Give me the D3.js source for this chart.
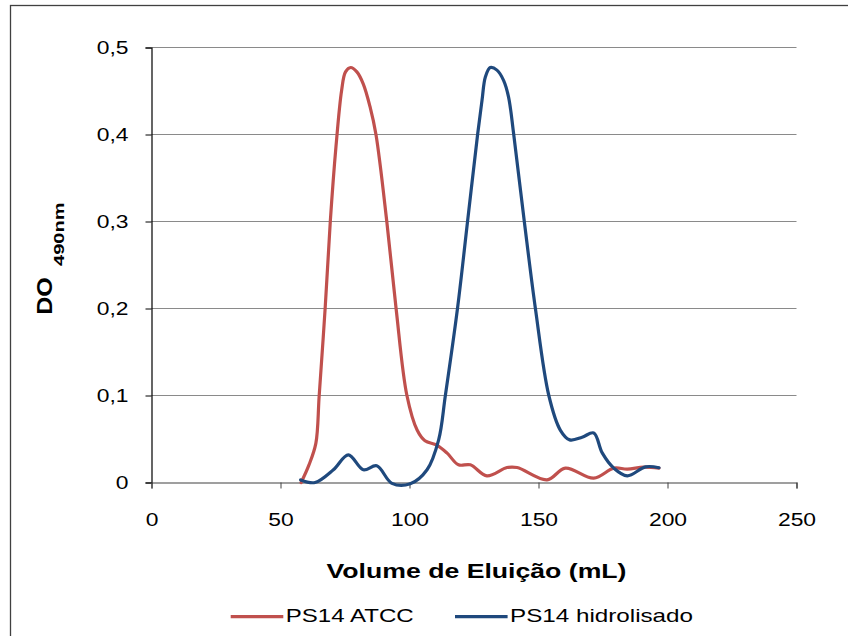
<!DOCTYPE html>
<html lang="pt">
<head>
<meta charset="UTF-8">
<title>DO 490nm</title>
<script src="https://cdn.jsdelivr.net/npm/d3@7"></script>
<style>
  body { margin: 0; background: #fff; }
  text { font-family: "Liberation Sans", Arial, sans-serif; fill: #000; }
</style>
</head>
<body>
<script>
// eluted volume (mL) and optical density
const atccVol = [58, 61, 63.7, 65, 67.3, 69.3, 71.5, 73.7, 75.2, 77.2, 79.6, 82.1, 84.7, 87, 91.2, 94.8, 99, 103, 106, 110.6, 114.5, 119, 123.6, 130, 137.8, 141.7, 153.3, 160.4, 171.4, 179.2, 184.4, 190.8, 196.7];
const atccDO  = [0, 0.02, 0.045, 0.1, 0.2, 0.3, 0.386, 0.451, 0.472, 0.477, 0.472, 0.458, 0.432, 0.4, 0.3, 0.2, 0.1, 0.06, 0.048, 0.043, 0.034, 0.0203, 0.0203, 0.0077, 0.0172, 0.0172, 0.003, 0.0165, 0.005, 0.0165, 0.0153, 0.0177, 0.0165];

const hidroVol = [57.8, 63.4, 70.5, 76.3, 82.1, 87.3, 93.2, 100.3, 106.8, 111.3, 113.9, 118.6, 122.5, 126.4, 128.1, 129.4, 131.3, 133.9, 136.5, 138.4, 140.4, 144.5, 148.8, 154, 158.5, 162.1, 166.9, 171.4, 174.7, 179.2, 184.4, 191.5, 196.7];
const hidroDO  = [0.003, 0, 0.0146, 0.0318, 0.0146, 0.0192, -0.001, -0.0015, 0.0146, 0.049, 0.1, 0.2, 0.3, 0.4, 0.439, 0.466, 0.477, 0.474, 0.462, 0.443, 0.4, 0.3, 0.2, 0.1, 0.06, 0.049, 0.052, 0.057, 0.034, 0.0165, 0.0077, 0.018, 0.017];

const xTicks = [0, 50, 100, 150, 200, 250];
const yTicks = [0, 0.1, 0.2, 0.3, 0.4, 0.5];
const yTickLabels = ["0", "0,1", "0,2", "0,3", "0,4", "0,5"];

const seriesNames = ["PS14 ATCC", "PS14 hidrolisado"];
const seriesColors = ["#C0504D", "#1F497D"];

const width = 848, height = 636;
const plotLeft = 151.5, plotRight = 796.5, plotTop = 47.5, plotBottom = 482.5;

// the original fonts are drawn wider than normal
function stretch(sel, k) {
  sel.each(function () {
    const len = this.getComputedTextLength();
    d3.select(this)
      .attr("textLength", len * k)
      .attr("lengthAdjust", "spacingAndGlyphs");
  });
}

const svg = d3.select("body").append("svg")
  .attr("width", width)
  .attr("height", height);

// outer chart frame
svg.append("rect")
  .attr("x", 10.5).attr("y", 5.5)
  .attr("width", 900).attr("height", 700)
  .attr("fill", "none")
  .attr("stroke", "#404040")
  .attr("stroke-width", 1.3);

const x = d3.scaleLinear().domain([0, 250]).range([plotLeft, plotRight]);
const y = d3.scaleLinear().domain([0, 0.5]).range([plotBottom, plotTop]);

// gridlines
svg.append("g")
  .selectAll("line")
  .data(yTicks.slice(1))
  .join("line")
  .attr("x1", plotLeft).attr("x2", plotRight)
  .attr("y1", d => y(d)).attr("y2", d => y(d))
  .attr("stroke", "#8a8a8a")
  .attr("stroke-width", 1.2);

// y axis
const yAxis = svg.append("g")
  .attr("transform", `translate(${plotLeft},0)`)
  .call(d3.axisLeft(y).tickValues(yTicks).tickSize(6).tickPadding(17)
    .tickFormat((d, i) => yTickLabels[i]));
yAxis.select(".domain").attr("stroke", "#000").attr("stroke-width", 1.2);
yAxis.selectAll(".tick line").attr("stroke", "#000");
yAxis.selectAll("text")
  .attr("font-family", null).attr("font-size", null)
  .style("font-size", "18px");

// x axis
const xAxis = svg.append("g")
  .attr("transform", `translate(0,${plotBottom})`)
  .call(d3.axisBottom(x).tickValues(xTicks).tickSize(6).tickPadding(25));
xAxis.select(".domain").attr("stroke", "#404040").attr("stroke-width", 1.2);
xAxis.selectAll(".tick line").attr("stroke", "#404040");
xAxis.selectAll("text")
  .attr("font-family", null)
  .style("font-size", "18px");

svg.selectAll(".tick text").call(stretch, 1.27);

// series
const line = d3.line()
  .x(d => x(d[0]))
  .y(d => y(d[1]))
  .curve(d3.curveCatmullRom.alpha(0.5));

const series = [
  d3.zip(atccVol, atccDO),
  d3.zip(hidroVol, hidroDO)
];

svg.append("g")
  .selectAll("path")
  .data(series)
  .join("path")
  .attr("d", line)
  .attr("fill", "none")
  .attr("stroke", (d, i) => seriesColors[i])
  .attr("stroke-width", 3.2)
  .attr("stroke-linejoin", "round")
  .attr("stroke-linecap", "round");

// axis titles
svg.append("text")
  .attr("x", 476.5).attr("y", 577.7)
  .attr("text-anchor", "middle")
  .attr("textLength", 300)
  .attr("lengthAdjust", "spacingAndGlyphs")
  .style("font-size", "19.5px")
  .style("font-weight", "bold")
  .text("Volume de Eluição (mL)");

svg.append("text")
  .attr("transform", "translate(51.7,314.8) rotate(-90)")
  .attr("textLength", 37.5)
  .attr("lengthAdjust", "spacingAndGlyphs")
  .style("font-weight", "bold")
  .style("font-size", "22px")
  .text("DO");
svg.append("text")
  .attr("transform", "translate(64.3,266) rotate(-90)")
  .attr("textLength", 63.5)
  .attr("lengthAdjust", "spacingAndGlyphs")
  .style("font-weight", "bold")
  .style("font-size", "15px")
  .text("490nm");

// legend
const legendX = [230.7, 455];
const legendLen = [128, 183];
const legend = svg.append("g")
  .selectAll("g")
  .data(seriesNames)
  .join("g")
  .attr("transform", (d, i) => `translate(${legendX[i]},616.7)`);
legend.append("line")
  .attr("x1", 0).attr("x2", 52.6)
  .attr("stroke", (d, i) => seriesColors[i])
  .attr("stroke-width", 3.2);
legend.append("text")
  .attr("x", 55).attr("y", 5)
  .attr("textLength", (d, i) => legendLen[i])
  .attr("lengthAdjust", "spacingAndGlyphs")
  .style("font-size", "18.5px")
  .text(d => d);
</script>
</body>
</html>
